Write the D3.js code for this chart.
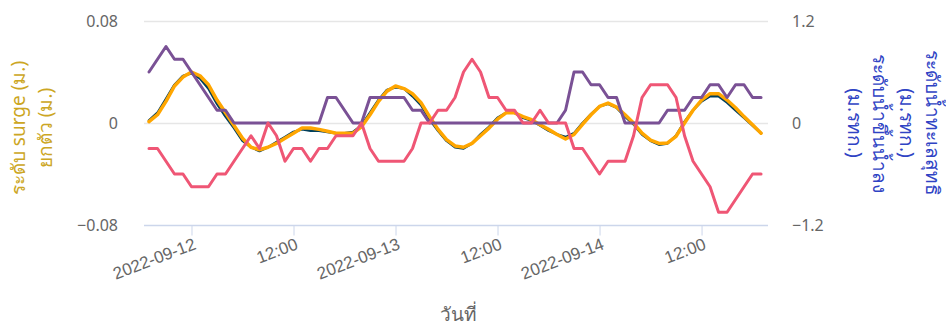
<!DOCTYPE html>
<html>
<head>
<meta charset="utf-8">
<script src="https://cdn.jsdelivr.net/npm/d3@7"></script>
<style>
  body { margin: 0; background: #fff; }
  svg { display: block; font-family: "Noto Sans", "Open Sans", sans-serif; }
</style>
</head>
<body>
<script>
// hourly readings, 2022-09-11 19:00 .. 2022-09-14 19:00
var startTime = new Date(2022, 8, 11, 19, 0);
var endTime = new Date(2022, 8, 14, 19, 0);

var surge = [0.001, 0.0065, 0.017, 0.029, 0.036, 0.040, 0.037, 0.030, 0.018, 0.008,
  -0.002, -0.012, -0.019, -0.021, -0.019, -0.016, -0.012, -0.008, -0.004, -0.004,
  -0.005, -0.0065, -0.008, -0.008, -0.008, -0.003, 0.0065, 0.017, 0.025, 0.029,
  0.027, 0.023, 0.016, 0.005, -0.005, -0.013, -0.018, -0.019, -0.016, -0.010,
  -0.004, 0.003, 0.008, 0.008, 0.005, 0.0026, -0.0013, -0.005, -0.009, -0.0125,
  -0.009, -0.001, 0.0065, 0.013, 0.0156, 0.0125, 0.0065, 0, -0.008, -0.0135,
  -0.016, -0.0156, -0.0104, 0, 0.010, 0.018, 0.023, 0.023, 0.018, 0.012,
  0.005, -0.0013, -0.008];

var lift = [0.002, 0.008, 0.019, 0.030, 0.037, 0.039, 0.035, 0.027, 0.015, 0.005,
  -0.004, -0.014, -0.019, -0.022, -0.019, -0.015, -0.011, -0.007, -0.005, -0.006,
  -0.006, -0.007, -0.008, -0.008, -0.007, -0.002, 0.008, 0.018, 0.026, 0.028,
  0.027, 0.021, 0.014, 0.003, -0.006, -0.014, -0.019, -0.020, -0.016, -0.009,
  -0.003, 0.004, 0.008, 0.008, 0.004, 0.002, -0.002, -0.006, -0.009, -0.011,
  -0.008, 0.000, 0.007, 0.013, 0.015, 0.012, 0.005, -0.001, -0.009, -0.014,
  -0.017, -0.016, -0.010, 0.001, 0.010, 0.017, 0.021, 0.021, 0.016, 0.010,
  0.004, -0.002, -0.008];

var netLevel = [0.6, 0.75, 0.9, 0.75, 0.75, 0.6, 0.45, 0.3, 0.15, 0.15,
  0, 0, 0, 0, 0, 0, 0, 0, 0, 0,
  0, 0.3, 0.3, 0.15, 0, 0, 0.3, 0.3, 0.3, 0.3,
  0.3, 0.15, 0.15, 0, 0, 0, 0, 0, 0, 0,
  0, 0, 0, 0, 0, 0, 0, 0, 0, 0.15,
  0.6, 0.6, 0.45, 0.45, 0.3, 0.3, 0, 0, 0, 0,
  0, 0.15, 0.15, 0.15, 0.3, 0.3, 0.45, 0.45, 0.3, 0.45,
  0.45, 0.3, 0.3];

var tideLevel = [-0.3, -0.3, -0.45, -0.6, -0.6, -0.75, -0.75, -0.75, -0.6, -0.6,
  -0.45, -0.3, -0.15, -0.3, 0, -0.15, -0.45, -0.3, -0.3, -0.45,
  -0.3, -0.3, -0.15, -0.15, -0.15, 0, -0.3, -0.45, -0.45, -0.45,
  -0.45, -0.3, 0, 0, 0.15, 0.15, 0.3, 0.6, 0.75, 0.6,
  0.3, 0.3, 0.15, 0.15, 0, 0, 0.15, 0, 0, 0,
  -0.3, -0.3, -0.45, -0.6, -0.45, -0.45, -0.45, -0.15, 0.3, 0.45,
  0.45, 0.45, 0.3, -0.15, -0.45, -0.6, -0.75, -1.05, -1.05, -0.9,
  -0.75, -0.6, -0.6];

var leftTicks = [-0.08, 0, 0.08];
var rightTicks = [-1.2, 0, 1.2];
var leftTitle = ["ระดับ surge (ม.)", "ยกตัว (ม.)"];
var rightTitle = ["ระดับน้ำทะเลสุทธิ", "(ม.รทก.)", "ระดับน้ำขึ้นน้ำลง", "(ม.รทก.)"];
var xTitle = "วันที่";

var times = d3.timeHour.range(startTime, d3.timeHour.offset(endTime, 1));

var width = 946, height = 328;
var margin = {top: 21, right: 178, bottom: 103, left: 148};

var svg = d3.select("body").append("svg").attr("width", width).attr("height", height);

var x = d3.scaleTime()
    .domain([d3.timeMinute.offset(startTime, -7), d3.timeMinute.offset(endTime, 49)])
    .range([margin.left, width - margin.right]);
var yL = d3.scaleLinear().domain([-0.08, 0.08]).range([height - margin.bottom, margin.top]);
var yR = d3.scaleLinear().domain([-1.2, 1.2]).range([height - margin.bottom, margin.top]);

// grid
svg.append("g").selectAll("line").data(leftTicks.filter(function(d){ return d != -0.08; }))
  .enter().append("line")
    .attr("x1", margin.left - 4).attr("x2", width - margin.right)
    .attr("y1", function(d){ return Math.round(yL(d)) + 0.5; })
    .attr("y2", function(d){ return Math.round(yL(d)) + 0.5; })
    .attr("stroke", "#e6e6e6").attr("stroke-width", 1.5);

// x axis
var fmtDay = d3.timeFormat("%Y-%m-%d"), fmtHour = d3.timeFormat("%H:%M");
var xAxis = d3.axisBottom(x)
    .ticks(d3.timeHour.every(12))
    .tickSize(10)
    .tickFormat(function(d){ return d.getHours() == 0 ? fmtDay(d) : fmtHour(d); });

var gx = svg.append("g").attr("transform", "translate(0," + (Math.round(yL(-0.08)) + 0.5) + ")").call(xAxis);
gx.select(".domain").attr("stroke", "#ccd6eb").attr("stroke-width", 1.5)
  .attr("d", "M" + (margin.left - 4) + ",0H" + (width - margin.right));
gx.selectAll(".tick line").attr("stroke", "#ccd6eb");
gx.selectAll(".tick text")
    .attr("fill", "#666").style("font-size", "17px")
    .attr("text-anchor", "end")
    .attr("dy", null).attr("y", null)
    .attr("transform", "translate(5,23) rotate(-21)");

// left axis labels
svg.append("g").selectAll("text").data(leftTicks).enter().append("text")
    .attr("x", 118).attr("y", function(d){ return yL(d); }).attr("dy", "0.35em")
    .attr("text-anchor", "end").attr("fill", "#666").style("font-size", "16px")
    .text(function(d){ return d == 0 ? "0" : d3.format(".2f")(d).replace("-", "\u2212"); });

// right axis labels
svg.append("g").selectAll("text").data(rightTicks).enter().append("text")
    .attr("x", 792).attr("y", function(d){ return yR(d); }).attr("dy", "0.35em")
    .attr("text-anchor", "start").attr("fill", "#666").style("font-size", "16px")
    .text(function(d){ return d == 0 ? "0" : d3.format(".1f")(d).replace("-", "\u2212"); });

// axis titles
var ltX = [18, 45];
svg.append("g").selectAll("text").data(leftTitle).enter().append("text")
    .attr("transform", function(d, i){ return "translate(" + ltX[i] + ",128) rotate(-90)"; })
    .attr("dy", "0.35em").attr("text-anchor", "middle")
    .attr("fill", "#cca623").style("font-size", "19px")
    .text(function(d){ return d; });

var rtX = [933, 907, 880, 855];
svg.append("g").selectAll("text").data(rightTitle).enter().append("text")
    .attr("transform", function(d, i){ return "translate(" + rtX[i] + ",123) rotate(90)"; })
    .attr("dy", "0.35em").attr("text-anchor", "middle")
    .attr("fill", "#2f43c4").style("font-size", "19px")
    .text(function(d){ return d; });

svg.append("text").attr("x", (margin.left + width - margin.right) / 2).attr("y", 321)
    .attr("text-anchor", "middle").attr("fill", "#666").style("font-size", "19px")
    .text(xTitle);

// series
function drawLine(values, yScale, color, w) {
  var line = d3.line()
      .x(function(d, i){ return x(times[i]); })
      .y(function(d){ return yScale(d); });
  svg.append("path").datum(values)
      .attr("d", line)
      .attr("fill", "none")
      .attr("stroke", color)
      .attr("stroke-width", w)
      .attr("stroke-linejoin", "round")
      .attr("stroke-linecap", "round");
}

drawLine(lift, yL, "#003f5c", 2.5);
drawLine(surge, yL, "#ffa600", 3.5);
drawLine(netLevel, yR, "#7a5195", 3);
drawLine(tideLevel, yR, "#ef5675", 3);
</script>
</body>
</html>
